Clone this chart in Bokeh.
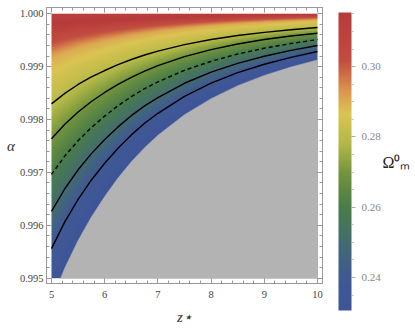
import numpy as np
from bokeh.plotting import figure
from bokeh.models import (LinearColorMapper, ColorBar, FixedTicker, LinearAxis,
                          SingleIntervalTicker, PrintfTickFormatter, Range1d,
                          CustomJSTickFormatter)
from bokeh.embed import file_html
from bokeh.resources import INLINE

# ---------------- data ----------------
# contour lines and the edge of the gray region (alpha at each z*)
z_fine = [5.0, 5.25, 5.5, 5.75, 6.0, 6.25, 6.5, 6.75, 7.0, 7.5, 8.0, 8.5, 9.0, 9.5, 10.0]
alpha_edge = [0.994574, 0.995192, 0.995713, 0.996159, 0.996543, 0.996892, 0.997200,
              0.997468, 0.997700, 0.998091, 0.998394, 0.998638, 0.998834, 0.998991,
              0.999126]   # Omega = 0.2306 (edge of gray)
alpha_0240 = [0.995560, 0.996066, 0.996492, 0.996857, 0.997172, 0.997458, 0.997709,
              0.997928, 0.998117, 0.998438, 0.998687, 0.998885, 0.999045, 0.999174,
              0.999285]
alpha_0250 = [0.996264, 0.996691, 0.997049, 0.997355, 0.997621, 0.997860, 0.998072,
              0.998257, 0.998415, 0.998685, 0.998894, 0.999062, 0.999196, 0.999306,
              0.999398]
alpha_0260 = [0.996962, 0.997309, 0.997600, 0.997849, 0.998064, 0.998260, 0.998432,
              0.998583, 0.998711, 0.998930, 0.999100, 0.999238, 0.999347, 0.999436,
              0.999511]
alpha_0270 = [0.997636, 0.997911, 0.998143, 0.998340, 0.998511, 0.998664, 0.998798,
              0.998915, 0.999019, 0.999189, 0.999321, 0.999428, 0.999511, 0.999579,
              0.999630]
alpha_0280 = [0.998296, 0.998494, 0.998662, 0.998804, 0.998926, 0.999038, 0.999134,
              0.999219, 0.999292, 0.999415, 0.999511, 0.999587, 0.999647, 0.999696,
              0.999738]

# colour levels near the top (no line drawn)
z_coarse = [5.0, 5.5, 6.0, 6.5, 7.0, 7.5, 8.0, 8.5, 9.0, 9.5, 10.0]
alpha_0285 = [0.998774, 0.999038, 0.999226, 0.999377, 0.999491, 0.999579,
              0.999647, 0.999704, 0.999745, 0.999781, 0.999811]
alpha_0290 = [0.999151, 0.999334, 0.999464, 0.999568, 0.999647, 0.999709,
              0.999757, 0.999794, 0.999825, 0.999849, 0.999870]
alpha_0300 = [0.999396, 0.999526, 0.999619, 0.999692, 0.999749, 0.999792,
              0.999826, 0.999855, 0.999875, 0.999892, 0.999908]
alpha_0305 = [0.999547, 0.999645, 0.999715, 0.999770, 0.999811, 0.999845,
              0.999870, 0.999891, 0.999906, 0.999919, 0.999930]
alpha_max = [0.999774, 0.999823, 0.999857, 0.999885, 0.999906, 0.999923,
             0.999936, 0.999945, 0.999953, 0.999960, 0.999966]
alpha_top = [1.0] * 11

omega_levels = [0.2306, 0.240, 0.250, 0.260, 0.270, 0.280, 0.285, 0.290,
                0.300, 0.305, 0.3154, 0.311]
omega_min, omega_max = 0.2306, 0.3154

cbar_ticks = [0.24, 0.26, 0.28, 0.30]
cbar_minor = [0.235, 0.245, 0.25, 0.255, 0.265, 0.27, 0.275, 0.285, 0.29, 0.295,
              0.305, 0.31, 0.315]

# colour gradient of the bar legend (position 0..1 -> rgb)
grad_pos = [0.0, 0.12, 0.24, 0.35, 0.46, 0.56, 0.66, 0.74, 0.84, 1.0]
grad_rgb = [(0.240, 0.333, 0.600), (0.250, 0.352, 0.575), (0.262, 0.432, 0.420),
            (0.290, 0.492, 0.280), (0.450, 0.580, 0.240), (0.700, 0.720, 0.280),
            (0.860, 0.770, 0.320), (0.860, 0.580, 0.310), (0.760, 0.300, 0.250),
            (0.720, 0.230, 0.230)]
GRAY = "#b3b3b3"

# ---------------- palette and field table ----------------
st = np.array(grad_rgb)
tt = np.linspace(0, 1, 256)
palette = ["#%02x%02x%02x" % tuple(int(round(255 * np.interp(t, grad_pos, st[:, k])))
                                    for k in range(3)) for t in tt]

curves = [(z_fine, alpha_edge), (z_fine, alpha_0240), (z_fine, alpha_0250),
          (z_fine, alpha_0260), (z_fine, alpha_0270), (z_fine, alpha_0280),
          (z_coarse, alpha_0285), (z_coarse, alpha_0290), (z_coarse, alpha_0300),
          (z_coarse, alpha_0305), (z_coarse, alpha_max), (z_coarse, alpha_top)]
nx, ny = 532, 530
zc = 5 + (np.arange(nx) + 0.5) * 5.0 / nx
ac = 0.995 + (np.arange(ny) + 0.5) * 0.005 / ny
grid = np.zeros((ny, nx))
for j, z in enumerate(zc):
    la = [np.interp(z, zz, aa) for zz, aa in curves]
    grid[:, j] = np.interp(ac, la, omega_levels)   # below the edge: lowest value

mapper = LinearColorMapper(palette=palette, low=omega_min, high=omega_max,
                           nan_color=GRAY)

# gray (excluded) region: below the edge curve, inside the plotted window
z_cross = float(np.interp(0.995, alpha_edge, z_fine))
gray_z = [z_cross] + [z for z, a in zip(z_fine, alpha_edge) if z > z_cross] + [10.0]
gray_a = [0.995] + [a for z, a in zip(z_fine, alpha_edge) if z > z_cross] + [0.995]

FONT = "Liberation Serif"
FRAME = "#999999"

# ---------------- main plot ----------------
p = figure(frame_width=276, frame_height=276, output_backend="svg", toolbar_location=None,
           x_range=Range1d(4.906, 10.094), y_range=Range1d(0.99490, 1.000117),
           min_border_left=46, min_border_right=90, min_border_top=7, min_border_bottom=44,
           background_fill_color="white", border_fill_color="white")
p.xgrid.visible = False
p.ygrid.visible = False
p.outline_line_color = FRAME

p.image(image=[grid], x=5, y=0.995, dw=5, dh=0.005, color_mapper=mapper)
p.patch(gray_z, gray_a, fill_color=GRAY, line_color=GRAY, line_width=0.5)

p.line(z_fine, alpha_0240, line_color="black", line_width=1.4)
p.line(z_fine, alpha_0250, line_color="black", line_width=1.4)
p.line(z_fine, alpha_0260, line_color="black", line_width=1.4, line_dash="4 3")
p.line(z_fine, alpha_0270, line_color="black", line_width=1.4)
p.line(z_fine, alpha_0280, line_color="black", line_width=1.4)


def horizontal(ax):
    if "axis_label_orientation" in ax.properties():
        ax.axis_label_orientation = "horizontal"


def style(ax, labels):
    ax.axis_line_color = FRAME
    ax.major_tick_line_color = FRAME
    ax.minor_tick_line_color = FRAME
    ax.major_tick_in = 5
    ax.major_tick_out = 0
    ax.minor_tick_in = 3
    ax.minor_tick_out = 0
    ax.axis_label_text_font = FONT
    ax.axis_label_text_font_style = "italic"
    ax.axis_label_text_font_size = "15px"
    ax.axis_label_text_color = "#333333"
    if labels:
        ax.major_label_text_font = FONT
        ax.major_label_text_font_size = "10.5px"
        ax.major_label_text_color = "#444444"
    else:
        ax.formatter = CustomJSTickFormatter(code="return ''")
        ax.major_label_standoff = 0


xa = p.xaxis[0]
xa.ticker = SingleIntervalTicker(interval=1, num_minor_ticks=5)
xa.formatter = PrintfTickFormatter(format="%d")
xa.major_label_standoff = 7
style(xa, True)
xa.axis_label = "z⋆"
xa.axis_label_standoff = 8

ya = p.yaxis[0]
ya.ticker = SingleIntervalTicker(interval=0.001, num_minor_ticks=5)
ya.formatter = PrintfTickFormatter(format="%.3f")
ya.major_label_standoff = 3
style(ya, True)
ya.axis_label = "α"
ya.axis_label_standoff = 2
horizontal(ya)

top_ax = LinearAxis(ticker=SingleIntervalTicker(interval=1, num_minor_ticks=5))
style(top_ax, False)
p.add_layout(top_ax, "above")
right_ax = LinearAxis(ticker=SingleIntervalTicker(interval=0.001, num_minor_ticks=5))
style(right_ax, False)
p.add_layout(right_ax, "right")

# label of the colour bar, carried by a tick-less axis on the right
lbl_ax = LinearAxis(ticker=FixedTicker(ticks=[]),
                    axis_line_color=None, major_tick_line_color=None,
                    minor_tick_line_color=None, axis_label="\nΩ⁰ₘ",
                    axis_label_standoff=60, axis_label_text_font=FONT,
                    axis_label_text_font_style="normal", axis_label_text_font_size="16px",
                    axis_label_text_color="#222222", axis_label_text_line_height=2.0,
                    formatter=CustomJSTickFormatter(code="return ''"),
                    major_label_standoff=0, major_tick_in=0, major_tick_out=0)
horizontal(lbl_ax)
p.add_layout(lbl_ax, "right")

cb = ColorBar(color_mapper=mapper, width=13, height=298, padding=0, margin=0,
              location=(292, -27),
              ticker=FixedTicker(ticks=cbar_ticks, minor_ticks=cbar_minor),
              formatter=PrintfTickFormatter(format="%.2f"),
              major_label_text_font=FONT, major_label_text_font_size="11px",
              major_label_text_color="#888888", label_standoff=6,
              major_tick_in=0, major_tick_out=4, major_tick_line_color="#aaaaaa",
              minor_tick_in=0, minor_tick_out=2, minor_tick_line_color="#bbbbbb",
              bar_line_color=None, border_line_color=None, background_fill_alpha=0)
p.add_layout(cb, "center")

open("out.html", "w").write(file_html(p, INLINE))
